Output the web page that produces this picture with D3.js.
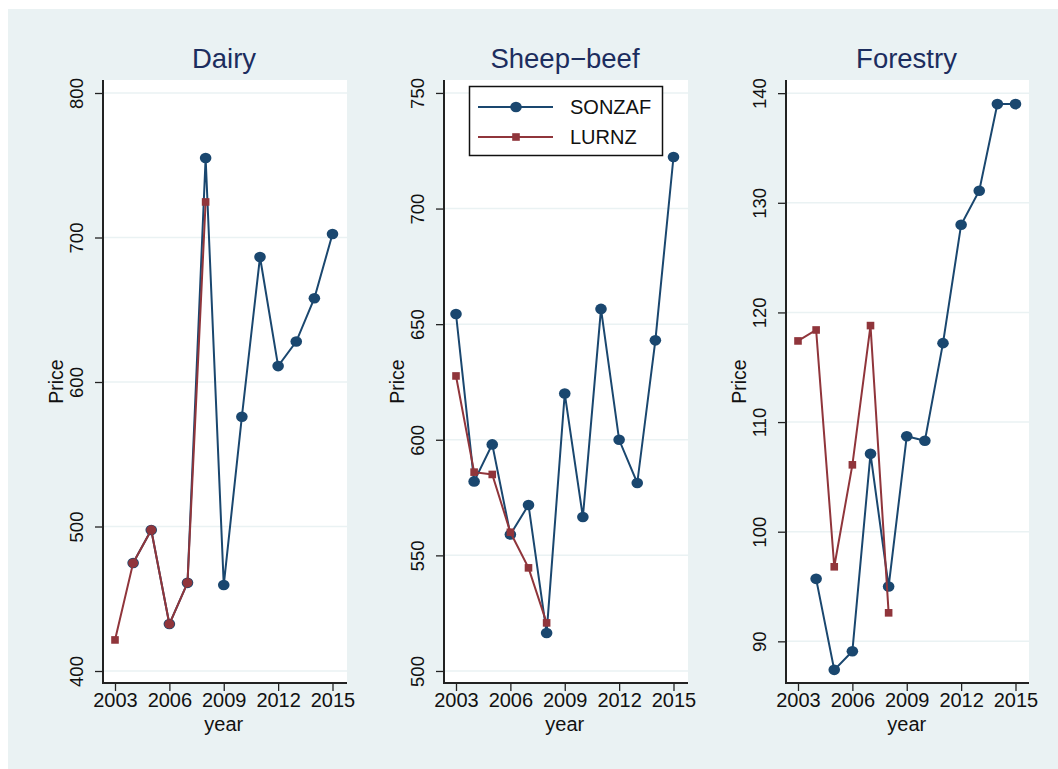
<!DOCTYPE html>
<html><head><meta charset="utf-8">
<script src="https://cdn.jsdelivr.net/npm/d3@7"></script>
<style>
html,body{margin:0;padding:0;background:#fff;}
svg{display:block;font-family:"Liberation Sans",Arial,sans-serif;}
</style></head>
<body><svg id="chart" width="1058" height="769"></svg>
<script>
// ---- data ----
const years = [2003,2004,2005,2006,2007,2008,2009,2010,2011,2012,2013,2014,2015];
const xTicks = [2003,2006,2009,2012,2015];
const seriesNames = ["SONZAF","LURNZ"];
const panelTitles = ["Dairy","Sheep\u2212beef","Forestry"];

// null = no value
const dairySONZAF  = [null,474.7,497.6,432.5,461,755,459.5,576,686.5,611,628,658,702.4];
const dairyLURNZ   = [421.5,474.7,497.6,432.5,461,724.6,null,null,null,null,null,null,null];
const sheepSONZAF  = [654.4,582,598,559,571.8,516.4,620,566.6,656.6,600,581.3,643,722.3];
const sheepLURNZ   = [627.6,586,585,560,544.6,520.8,null,null,null,null,null,null,null];
const forestSONZAF = [null,95.7,87.4,89.1,107.1,95.0,108.7,108.3,117.2,128.0,131.1,139.0,139.0];
const forestLURNZ  = [117.4,118.4,96.8,106.1,118.8,92.6,null,null,null,null,null,null,null];

const dairyTicks  = [400,500,600,700,800];
const sheepTicks  = [500,550,600,650,700,750];
const forestTicks = [90,100,110,120,130,140];

const dairyDomain  = [391.7,809];
const sheepDomain  = [494.8,755.6];
const forestDomain = [86.2,141.2];

const panels = [
  {title:panelTitles[0], s:dairySONZAF, l:dairyLURNZ, ticks:dairyTicks, domain:dairyDomain, x0:103, x1:347},
  {title:panelTitles[1], s:sheepSONZAF, l:sheepLURNZ, ticks:sheepTicks, domain:sheepDomain, x0:444, x1:688},
  {title:panelTitles[2], s:forestSONZAF, l:forestLURNZ, ticks:forestTicks, domain:forestDomain, x0:786, x1:1029}
];

const colS = "#1a476f", colL = "#90353b";
const bg = "#eaf2f3";
const titleCol = "#1c2d5e";

const svg = d3.select("#chart");
svg.append("rect").attr("x",8).attr("y",9).attr("width",1050).attr("height",760).attr("fill",bg);

const plotTop = 80, plotBottom = 683;

panels.forEach(p => {
  const g = svg.append("g");
  const x = d3.scaleLinear().domain([2003,2015]).range([p.x0+12, p.x0+229.5]);
  const y = d3.scaleLinear().domain(p.domain).range([plotBottom, plotTop]);

  g.append("rect").attr("x",p.x0).attr("y",plotTop).attr("width",p.x1-p.x0).attr("height",plotBottom-plotTop).attr("fill","#fff");

  // gridlines
  g.selectAll(".grid").data(p.ticks).join("line")
    .attr("x1",p.x0).attr("x2",p.x1)
    .attr("y1",d=>y(d)).attr("y2",d=>y(d))
    .attr("stroke",bg).attr("stroke-width",1.5);

  // title
  g.append("text").attr("x",(p.x0+p.x1)/2 - 1).attr("y",68)
    .attr("text-anchor","middle").attr("font-size",27.5).attr("fill",titleCol).text(p.title);

  // y axis
  const ya = d3.axisLeft(y).tickValues(p.ticks).tickSize(8).tickPadding(4).tickFormat(d3.format("d"));
  const yg = g.append("g").attr("transform",`translate(${p.x0},0)`).call(ya);
  yg.select(".domain").remove();
  yg.selectAll(".tick line").attr("stroke","#222").attr("stroke-width",1.3);
  yg.selectAll(".tick text").attr("font-size",18.5).attr("fill","#111")
    .attr("transform","translate(-24.5,0) rotate(-90)")
    .attr("x",0).attr("dy",0).attr("y",0).attr("text-anchor","middle").attr("dominant-baseline","middle");
  g.append("line").attr("x1",p.x0).attr("x2",p.x0).attr("y1",plotTop).attr("y2",plotBottom+1)
    .attr("stroke","#222").attr("stroke-width",2);

  // x axis
  const xa = d3.axisBottom(x).tickValues(xTicks).tickSize(8).tickPadding(2).tickFormat(d3.format("d"));
  const xg = g.append("g").attr("transform",`translate(0,${plotBottom})`).call(xa);
  xg.select(".domain").remove();
  xg.selectAll(".tick line").attr("stroke","#222").attr("stroke-width",1.3);
  xg.selectAll(".tick text").attr("font-size",20).attr("fill","#111");
  g.append("line").attr("x1",p.x0-1).attr("x2",p.x1).attr("y1",plotBottom).attr("y2",plotBottom)
    .attr("stroke","#222").attr("stroke-width",2);

  g.append("text").attr("x",(p.x0+12+p.x0+229.5)/2).attr("y",731)
    .attr("text-anchor","middle").attr("font-size",20).attr("fill","#111").text("year");
  g.append("text").attr("transform",`translate(${p.x0-40},${(plotTop+plotBottom)/2}) rotate(-90)`)
    .attr("text-anchor","middle").attr("font-size",19.5).attr("fill","#111").text("Price");

  const line = d3.line().defined(d=>d.v!=null).x(d=>x(d.yr)).y(d=>y(d.v));
  const sd = years.map((yr,i)=>({yr, v:p.s[i]}));
  const ld = years.map((yr,i)=>({yr, v:p.l[i], same: p.l[i]!=null && p.l[i]===p.s[i]}));

  g.append("path").datum(sd).attr("d",line).attr("fill","none").attr("stroke",colS).attr("stroke-width",2);
  g.selectAll(".ms").data(sd.filter(d=>d.v!=null)).join("ellipse")
    .attr("cx",d=>x(d.yr)).attr("cy",d=>y(d.v)).attr("rx",5.8).attr("ry",5.3).attr("fill",colS);

  g.append("path").datum(ld).attr("d",line).attr("fill","none").attr("stroke",colL).attr("stroke-width",2);
  g.selectAll(".mc").data(ld.filter(d=>d.v!=null && d.same)).join("ellipse")
    .attr("cx",d=>x(d.yr)).attr("cy",d=>y(d.v)).attr("rx",5).attr("ry",4.6).attr("fill",colL);
  g.selectAll(".ml").data(ld.filter(d=>d.v!=null && !d.same)).join("rect")
    .attr("x",d=>x(d.yr)-3.8).attr("y",d=>y(d.v)-3.8).attr("width",7.6).attr("height",7.6).attr("fill",colL);
});

// legend
const lg = svg.append("g");
lg.append("rect").attr("x",469.5).attr("y",86.5).attr("width",193).attr("height",69)
  .attr("fill","#fff").attr("stroke","#111").attr("stroke-width",1.5);
const legY = [107,137];
seriesNames.forEach((n,i)=>{
  const c = i===0?colS:colL;
  lg.append("line").attr("x1",478).attr("x2",553).attr("y1",legY[i]).attr("y2",legY[i]).attr("stroke",c).attr("stroke-width",2);
  if(i===0) lg.append("ellipse").attr("cx",516).attr("cy",legY[i]).attr("rx",5.8).attr("ry",5.3).attr("fill",c);
  else lg.append("rect").attr("x",516-3.8).attr("y",legY[i]-3.8).attr("width",7.6).attr("height",7.6).attr("fill",c);
  lg.append("text").attr("x",570).attr("y",legY[i]).attr("dominant-baseline","central")
    .attr("font-size",20).attr("fill","#111").text(n);
});
</script></body></html>
